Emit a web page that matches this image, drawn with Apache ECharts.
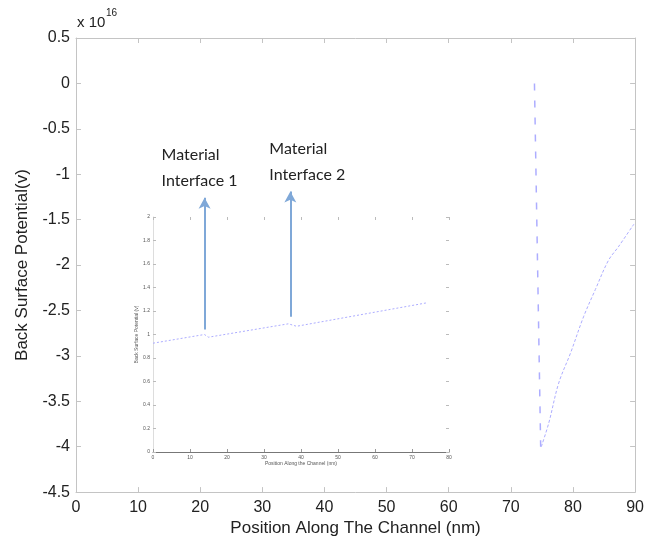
<!DOCTYPE html>
<html>
<head>
<meta charset="utf-8">
<script src="https://cdn.jsdelivr.net/npm/echarts@6/dist/echarts.min.js"></script>
<style>
html, body { margin: 0; padding: 0; background: #fff; }
#chart { width: 647px; height: 542px; }
</style>
</head>
<body>
<div id="chart"></div>
<script>
// main axes (units of 1e16)
const mainXTicks = [0, 10, 20, 30, 40, 50, 60, 70, 80, 90]
const mainYTicks = [0.5, 0, -0.5, -1, -1.5, -2, -2.5, -3, -3.5, -4, -4.5]

// dashed drop and recovering curve near the drain end
const dropX = [73.8, 74.8]
const dropY = [0, -4.0]
const curveX = [74.9, 76.1, 77.7, 79.6, 81.7, 83.6, 85.7, 87.3, 89.8]
const curveY = [-4.0, -3.74, -3.30, -2.97, -2.57, -2.27, -1.95, -1.80, -1.55]

// inset plot (pasted figure)
const insetXTicks = [0, 10, 20, 30, 40, 50, 60, 70, 80]
const insetYTicks = [0, 0.2, 0.4, 0.6, 0.8, 1, 1.2, 1.4, 1.6, 1.8, 2]
const insetX = [0, 13.9, 15.0, 36.6, 38.8, 73.9]
const insetY = [0.926, 1.0, 0.977, 1.091, 1.07, 1.269]

// annotation arrows (main axes units)
const arrowX = [20.7, 34.5]
const arrowFrom = [-2.71, -2.57]
const arrowTo = [-1.26, -1.19]
const arrowNotes = [ 'Material\nInterface 1', 'Material\nInterface 2' ]

const chart = echarts.init( document.getElementById( 'chart' ), null, { renderer: 'canvas' } )

const font = 'Liberation Sans, Arial, sans-serif'
const frame = '#c4c4c4'
const lineBlue = '#adadff'

const option = {
	animation: false,
	backgroundColor: '#fff',
	grid: [
		{ left: 76, right: 10, top: 38, bottom: 49 },
		{ left: 153, right: 198, top: 217, bottom: 90 }
	],
	xAxis: [
		{
			gridIndex: 0, type: 'value', min: mainXTicks[0], max: mainXTicks[mainXTicks.length - 1], interval: 10,
			name: 'Position Along The Channel (nm)', nameLocation: 'middle', nameGap: 26,
			nameTextStyle: { fontFamily: font, fontSize: 17, color: '#222' },
			axisLine: { onZero: false, lineStyle: { color: frame } },
			axisTick: { inside: true, length: 5, lineStyle: { color: frame } },
			axisLabel: { fontFamily: font, fontSize: 16, color: '#222', margin: 7 },
			splitLine: { show: false }
		},
		{
			gridIndex: 0, type: 'value', position: 'top', min: 0, max: 90, interval: 10,
			axisLine: { onZero: false, lineStyle: { color: frame } },
			axisTick: { inside: true, length: 5, lineStyle: { color: frame } },
			axisLabel: { show: false }, splitLine: { show: false }
		},
		{
			gridIndex: 1, type: 'value', min: insetXTicks[0], max: insetXTicks[insetXTicks.length - 1], interval: 10,
			name: 'Position Along the Channel (nm)', nameLocation: 'middle', nameGap: 9,
			nameTextStyle: { fontFamily: font, fontSize: 5, color: '#555' },
			axisLine: { onZero: false, lineStyle: { color: '#777' } },
			axisTick: { inside: true, length: 3, lineStyle: { color: '#999' } },
			axisLabel: { fontFamily: font, fontSize: 5, color: '#555', margin: 3 },
			splitLine: { show: false }
		},
		{
			gridIndex: 1, type: 'value', position: 'top', min: 0, max: 80, interval: 10,
			axisLine: { show: false, onZero: false },
			axisTick: { inside: true, length: 3, lineStyle: { color: '#bbb' } },
			axisLabel: { show: false }, splitLine: { show: false }
		}
	],
	yAxis: [
		{
			gridIndex: 0, type: 'value', min: mainYTicks[mainYTicks.length - 1], max: mainYTicks[0], interval: 0.5,
			name: 'Back Surface Potential(v)', nameLocation: 'middle', nameGap: 45, nameRotate: 90,
			nameTextStyle: { fontFamily: font, fontSize: 17, color: '#222' },
			axisLine: { show: true, onZero: false, lineStyle: { color: frame } },
			axisTick: { show: true, inside: true, length: 5, lineStyle: { color: frame } },
			axisLabel: { fontFamily: font, fontSize: 16, color: '#222', margin: 6 },
			splitLine: { show: false }
		},
		{
			gridIndex: 0, type: 'value', position: 'right', min: -4.5, max: 0.5, interval: 0.5,
			axisLine: { show: true, onZero: false, lineStyle: { color: frame } },
			axisTick: { show: true, inside: true, length: 5, lineStyle: { color: frame } },
			axisLabel: { show: false }, splitLine: { show: false }
		},
		{
			gridIndex: 1, type: 'value', min: insetYTicks[0], max: insetYTicks[insetYTicks.length - 1], interval: 0.2,
			name: 'Back Surface Potential (v)', nameLocation: 'middle', nameGap: 9, nameRotate: 90,
			nameTextStyle: { fontFamily: font, fontSize: 5, color: '#555' },
			axisLine: { show: true, onZero: false, lineStyle: { color: '#ddd' } },
			axisTick: { show: true, inside: true, length: 3, lineStyle: { color: '#bbb' } },
			axisLabel: { fontFamily: font, fontSize: 5, color: '#555', margin: 3 },
			splitLine: { show: false }
		},
		{
			gridIndex: 1, type: 'value', position: 'right', min: 0, max: 2, interval: 0.2,
			axisLine: { show: false, onZero: false },
			axisTick: { show: true, inside: true, length: 3, lineStyle: { color: '#bbb' } },
			axisLabel: { show: false }, splitLine: { show: false }
		}
	],
	series: [
		{
			type: 'line', xAxisIndex: 0, yAxisIndex: 0, showSymbol: false, silent: true,
			data: dropX.map( ( x, i ) => [ x, dropY[i] ] ),
			lineStyle: { color: lineBlue, width: 1.5, type: [ 7, 10 ] },
			markLine: {
				silent: true, animation: false,
				symbol: [ 'none', 'arrow' ], symbolSize: [ 9, 11 ],
				label: { show: false },
				lineStyle: { color: '#7fa8d8', width: 2, type: 'solid' },
				data: arrowX.map( ( x, i ) => [ { coord: [ x, arrowFrom[i] ] }, { coord: [ x, arrowTo[i] ] } ] )
			}
		},
		{
			type: 'line', xAxisIndex: 0, yAxisIndex: 0, showSymbol: false, silent: true, smooth: 0.35,
			data: curveX.map( ( x, i ) => [ x, curveY[i] ] ),
			lineStyle: { color: lineBlue, width: 1, type: [ 3, 2 ] }
		},
		{
			type: 'line', xAxisIndex: 2, yAxisIndex: 2, showSymbol: false, silent: true,
			data: insetX.map( ( x, i ) => [ x, insetY[i] ] ),
			lineStyle: { color: lineBlue, width: 1, type: [ 2, 2 ] }
		}
	]
}

chart.setOption( option )

// annotation text above the arrow heads, plus the exponent note
const noteDx = [ -43, -21 ]
const graphics = arrowNotes.map( ( t, i ) => {
	const p = chart.convertToPixel( { gridIndex: 0 }, [ arrowX[i], arrowTo[i] ] )
	return {
		type: 'text', x: p[0] + noteDx[i], y: p[1] - 4, silent: true,
		style: { text: t, fontFamily: 'Lato, Open Sans, sans-serif', fontSize: 16, lineHeight: 26, fill: '#222', verticalAlign: 'bottom', align: 'left' }
	}
} )
graphics.push(
	{ type: 'text', x: 77, y: 23, style: { text: 'x 10', fontFamily: font, fontSize: 15, fill: '#222', verticalAlign: 'middle' } },
	{ type: 'text', x: 106, y: 13, style: { text: '16', fontFamily: font, fontSize: 10, fill: '#222', verticalAlign: 'middle' } }
)
chart.setOption( { graphic: graphics } )
</script>
</body>
</html>
